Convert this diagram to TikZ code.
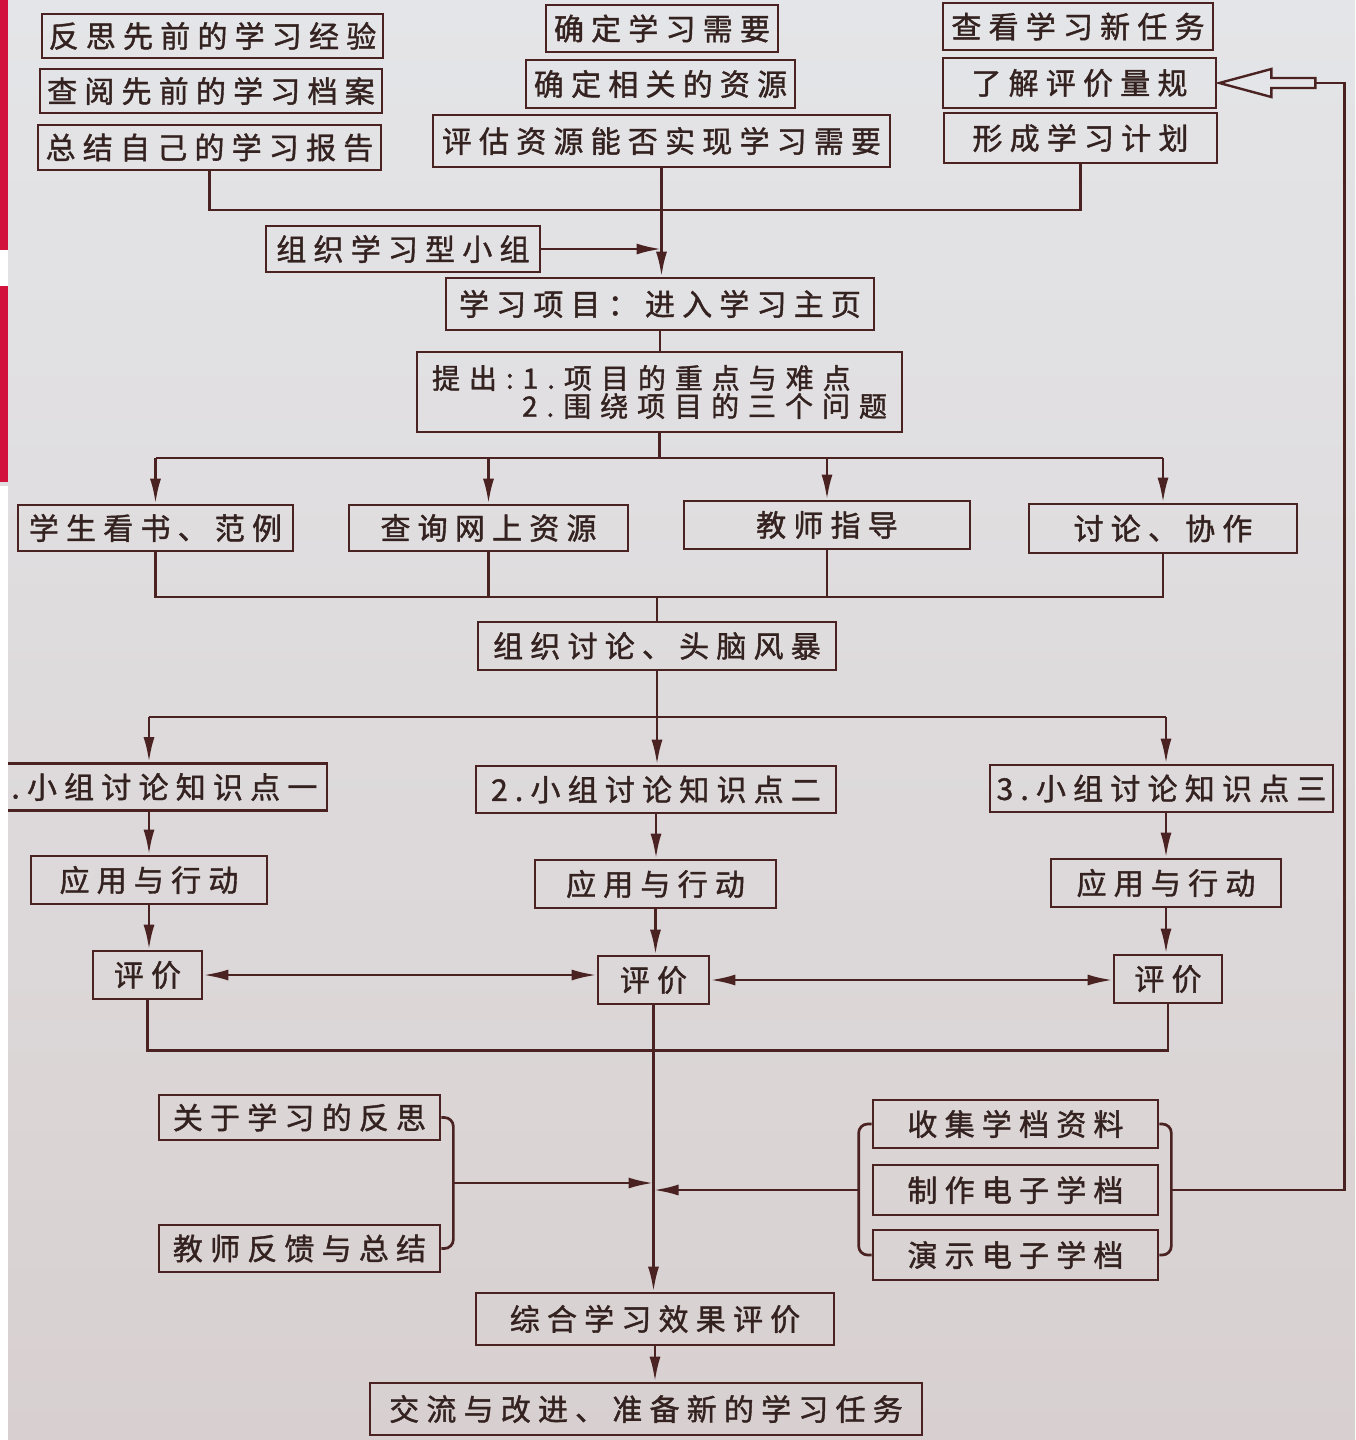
\documentclass[tikz,border=0pt]{standalone}
\usepackage{fontspec}
\newfontfamily\cjk[LetterSpace=24,FakeBold=1.3]{Noto Sans CJK SC}
\newfontfamily\cjkq[LetterSpace=32,FakeBold=1.3]{Noto Sans CJK SC}
\usetikzlibrary{arrows.meta,calc}
\definecolor{linec}{HTML}{4A2222}
\definecolor{textc}{HTML}{33221F}
\definecolor{bgtop}{HTML}{E4E5E8}
\definecolor{bgbot}{HTML}{D8D0D0}
\definecolor{redbar}{HTML}{D3113D}
\begin{document}
\begin{tikzpicture}[x=1pt,y=-1pt,
  box/.style={draw=linec,line width=2.7pt,text=textc,inner sep=0pt,font=\cjk\fontsize{30pt}{30pt}\selectfont},
  conn/.style={draw=linec,line width=2.7pt},
  arr/.style={conn,-{Latex[length=25pt,width=11pt]}},
  arrb/.style={conn,{Latex[length=25pt,width=11pt]}-{Latex[length=25pt,width=11pt]}}]
\useasboundingbox (0,0) rectangle (1355,1440);
\clip (0,0) rectangle (1355,1440);
\shade[top color=bgtop,bottom color=bgbot] (0,0) rectangle (1355,1440);

% top left column
\node[box,minimum width=341pt,minimum height=44pt] (A1) at (212.5,36) {反思先前的学习经验};
\node[box,minimum width=342pt,minimum height=44pt] (A2) at (211,91) {查阅先前的学习档案};
\node[box,minimum width=343pt,minimum height=45pt] (A3) at (209.5,147.5) {总结自己的学习报告};
% top middle column
\node[box,minimum width=232pt,minimum height=47pt] (B1) at (662,28.5) {确定学习需要};
\node[box,minimum width=269pt,minimum height=48pt] (B2) at (660.5,84) {确定相关的资源};
\node[box,minimum width=457pt,minimum height=52pt] (B3) at (661.5,141) {评估资源能否实现学习需要};
% top right column
\node[box,minimum width=270pt,minimum height=47pt] (C1) at (1078,26.5) {查看学习新任务};
\node[box,minimum width=273pt,minimum height=50pt] (C2) at (1079.5,83) {了解评价量规};
\node[box,minimum width=273pt,minimum height=50pt] (C3) at (1080.5,138) {形成学习计划};

\node[box,minimum width=274pt,minimum height=46pt] (G) at (403,249) {组织学习型小组};
\node[box,minimum width=428pt,minimum height=52pt] (P) at (660,304) {学习项目：进入学习主页};
\node[box,minimum width=485pt,minimum height=80pt,align=left,font=\cjkq\fontsize{28pt}{28pt}\selectfont] (Q) at (659.5,392) {提出:1.项目的重点与难点\\\hspace*{90pt}2.围绕项目的三个问题};

\node[box,minimum width=275pt,minimum height=46pt] (D1) at (155.5,528) {学生看书、范例};
\node[box,minimum width=279pt,minimum height=46pt] (D2) at (488.5,528) {查询网上资源};
\node[box,minimum width=286pt,minimum height=48pt] (D3) at (827,525) {教师指导};
\node[box,minimum width=268pt,minimum height=49pt] (D4) at (1163,528.5) {讨论、协作};

\node[box,minimum width=358pt,minimum height=48pt] (E) at (657,646) {组织讨论、头脑风暴};

\node[box,minimum width=349pt,minimum height=47pt] (F1) at (152.5,787) {1.小组讨论知识点一};
\node[box,minimum width=360pt,minimum height=47pt] (F2) at (656,789.5) {2.小组讨论知识点二};
\node[box,minimum width=343pt,minimum height=47pt] (F3) at (1161.5,788.5) {3.小组讨论知识点三};

\node[box,minimum width=236pt,minimum height=48pt] (G1) at (149,880) {应用与行动};
\node[box,minimum width=241pt,minimum height=48pt] (G2) at (655.5,884) {应用与行动};
\node[box,minimum width=230pt,minimum height=48pt] (G3) at (1166,883) {应用与行动};

\node[box,minimum width=109pt,minimum height=48pt] (H1) at (147.5,975) {评价};
\node[box,minimum width=111pt,minimum height=48pt] (H2) at (653.5,980) {评价};
\node[box,minimum width=108pt,minimum height=48pt] (H3) at (1168,979) {评价};

\node[box,minimum width=281pt,minimum height=45pt] (I1) at (299.5,1117.5) {关于学习的反思};
\node[box,minimum width=281pt,minimum height=47pt] (I2) at (299.5,1248.5) {教师反馈与总结};

\node[box,minimum width=285pt,minimum height=48pt] (J1) at (1015.5,1124) {收集学档资料};
\node[box,minimum width=285pt,minimum height=50pt] (J2) at (1015.5,1190) {制作电子学档};
\node[box,minimum width=285pt,minimum height=50pt] (J3) at (1015.5,1255) {演示电子学档};

\node[box,minimum width=358pt,minimum height=52pt] (K) at (655,1319) {综合学习效果评价};
\node[box,minimum width=552pt,minimum height=52pt] (L) at (646,1409) {交流与改进、准备新的学习任务};

% connectors, top
\coordinate (jt) at (B3.south |- 0,210);
\draw[conn] (A3.south) |- (jt);
\draw[conn] (C3.south) |- (jt);
\draw[arr] (B3.south) -- (B3.south |- P.north);
\draw[arr] (G.east) -- (G.east -| B3.south);
\draw[conn] (P.south) -- (P.south |- Q.north);

\coordinate (q1) at (Q.south |- 0,458);
\draw[conn] (Q.south) -- (q1);
\draw[conn] (D1.north |- q1) -- (D4.north |- q1);
\foreach \d in {D1,D2,D3,D4} \draw[arr] (\d.north |- q1) -- (\d.north);

\coordinate (d1) at (E.north |- 0,597);
\draw[conn] (D1.south) -- (D1.south |- d1) -- (D4.south |- d1) -- (D4.south);
\draw[conn] (D2.south) -- (D2.south |- d1);
\draw[conn] (D3.south) -- (D3.south |- d1);
\draw[conn] (d1) -- (E.north);

\coordinate (e1) at (E.south |- 0,717);
\draw[conn] (E.south) -- (e1);
\draw[conn] (G1.north |- e1) -- (G3.north |- e1);
\draw[arr] (G1.north |- e1) -- (G1.north |- F1.north);
\draw[arr] (e1) -- (e1 |- F2.north);
\draw[arr] (G3.north |- e1) -- (G3.north |- F3.north);

\draw[arr] (G1.north |- F1.south) -- (G1.north);
\draw[arr] (F2.south) -- (F2.south |- G2.north);
\draw[arr] (G3.north |- F3.south) -- (G3.north);

\draw[arr] (G1.south) -- (G1.south |- H1.north);
\draw[arr] (G2.south) -- (G2.south |- H2.north);
\draw[arr] (G3.south) -- (G3.south |- H3.north);

\draw[arrb] (H1.east) -- (H1.east -| H2.west);
\draw[arrb] (H2.east) -- (H2.east -| H3.west);
\draw[conn] (H1.south) -- ++(0,50) -| (H3.south);
\draw[arr] (H2.south) -- (H2.south |- K.north);

% braces
\draw[conn,rounded corners=9pt] (I1.east) -- ++(12,0) |- (I2.east);
\coordinate (lb) at ($(I1.east)!0.5!(I2.east)+(12,0)$);
\draw[arr] (lb) -- (lb -| H2.south);
\draw[conn,rounded corners=9pt] (J1.west) -- ++(-13,0) |- (J3.west);
\coordinate (rl) at ($(J2.west)+(-13,0)$);
\draw[arr] (rl) -- (rl -| H2.south);
\draw[conn,rounded corners=9pt] (J1.east) -- ++(12,0) |- (J3.east);
\coordinate (rr) at ($(J2.east)+(12,0)$);
\coordinate (ha) at ($(C2.east)+(98,0)$);
\draw[conn] (rr) -| ($(C2.east)+(127,0)$) -- (ha);
\draw[draw=linec,line width=2.4pt,fill=bgtop,line join=miter] ($(C2.east)+(2,0)$) -- ++(52,-14) -- ++(0,9) -- ++(44,0) -- ++(0,10) -- ++(-44,0) -- ++(0,9) -- cycle;

\draw[arr] (K.south) -- (K.south |- L.north);

% photo edge
\fill[white] (0,486) rectangle (8,1440);
\fill[redbar] (0,0) rectangle (8,250);
\fill[white] (0,250) rectangle (8,286);
\fill[redbar] (0,286) rectangle (8,482);
\end{tikzpicture}
\end{document}
